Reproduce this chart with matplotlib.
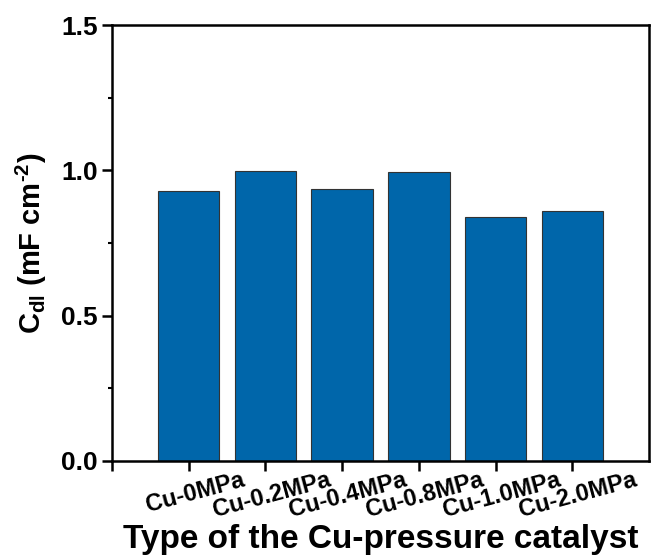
import numpy as np
import matplotlib.pyplot as plt
import matplotlib.transforms as mtransforms
from matplotlib.ticker import MultipleLocator

plt.rcParams['font.family'] = ['Liberation Sans', 'DejaVu Sans']
plt.rcParams['font.weight'] = 'bold'
plt.rcParams['mathtext.fontset'] = 'custom'
plt.rcParams['mathtext.rm'] = 'Liberation Sans:bold'
plt.rcParams['mathtext.bf'] = 'Liberation Sans:bold'
plt.rcParams['mathtext.it'] = 'Liberation Sans:bold'

samples = ["Cu-0MPa", "Cu-0.2MPa", "Cu-0.4MPa", "Cu-0.8MPa", "Cu-1.0MPa", "Cu-2.0MPa"]
cdl = [0.930, 0.999, 0.935, 0.996, 0.838, 0.859]

fig = plt.figure(figsize=(6.52, 5.56), dpi=100)
ax = fig.add_axes([0.1718, 0.1709, 0.8236, 0.7841])

x = np.arange(1, len(samples) + 1)
ax.bar(x, cdl, width=0.8, color="#0066AA", edgecolor="#333333", linewidth=0.8)

ax.set_xlim(0, 7)
ax.set_ylim(0, 1.5)
ax.set_xticks([0] + list(x))
ax.set_xticklabels([""] + samples, rotation=15, ha="center", fontsize=17, fontweight="bold")
ax.set_yticks([0, 0.5, 1.0, 1.5])
ax.set_yticklabels(["0.0", "0.5", "1.0", "1.5"], fontsize=19, fontweight="bold")
ax.yaxis.set_minor_locator(MultipleLocator(0.25))

for s in ax.spines.values():
    s.set_linewidth(1.8)
ax.tick_params(axis="both", which="major", direction="out", length=7, width=1.8, pad=2)
ax.tick_params(axis="y", which="minor", direction="out", length=3, width=1.5)
ax.tick_params(axis="x", pad=-2)
ax.tick_params(axis="y", pad=3)

# nudge rotated tick labels a little to the right, like the original
shift = mtransforms.ScaledTranslation(6 / 100, 0, fig.dpi_scale_trans)
for lab in ax.get_xticklabels():
    lab.set_transform(lab.get_transform() + shift)

ax.set_xlabel("Type of the Cu-pressure catalyst", fontsize=24, fontweight="bold", labelpad=2)
ax.set_ylabel("C$_{\\mathrm{dl}}$ (mF cm$^{\\mathrm{\u20102}}$)", fontsize=21, fontweight="bold", labelpad=9)

fig.savefig("out.png", dpi=100)
